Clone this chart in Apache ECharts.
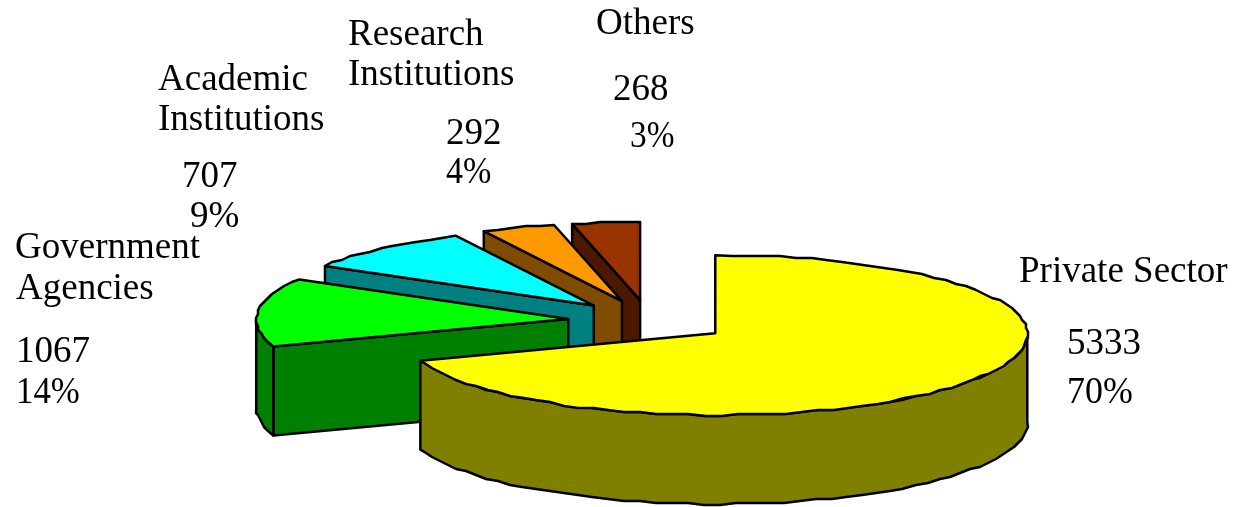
<!DOCTYPE html>
<html>
<head>
<meta charset="utf-8">
<style>html,body{margin:0;padding:0;background:#fff}#c{width:1234px;height:507px}</style>
<script src="https://cdn.jsdelivr.net/npm/echarts@6/dist/echarts.min.js"></script>
</head>
<body>
<div id="c"></div>
<script>
// ---- data ----
const categories = ['Private Sector', 'Government Agencies', 'Academic Institutions', 'Research Institutions', 'Others'];
const values = [5333, 1067, 707, 292, 268];
const percentLabels = ['70%', '14%', '9%', '4%', '3%'];
const topColors = ['#FFFF00', '#00FF00', '#00FFFF', '#FF9900', '#993300'];
const sideColors = ['#808000', '#008000', '#008080', '#804C00', '#4C1900'];

// ---- layout of the drawing (not data) ----
const PIE = { cx: 649, cy: 321, rx: 312, ryBack: 78, ryFront: 82, exY: 81, depth: 89, explode: 0.26, step: 3, snap: 2, flare: 0.01 };
const FONT = '37px "Liberation Serif", "Times New Roman", serif';
const labelLayout = [
  { name: [['Private Sector', 1019, 272]], value: [1067, 344], pct: [1067, 393, 0.97] },
  { name: [['Government', 15, 248], ['Agencies', 16, 289]], value: [16, 352], pct: [16, 393, 0.94] },
  { name: [['Academic', 158, 80], ['Institutions', 158, 120]], value: [182, 177], pct: [190, 217, 1] },
  { name: [['Research', 348, 35], ['Institutions', 348, 75]], value: [446, 134], pct: [446, 173, 0.92] },
  { name: [['Others', 596, 24]], value: [613, 90], pct: [630, 137, 0.9] }
];

const total = values.reduce((a, b) => a + b, 0);
const starts = [];
values.reduce((acc, v, i) => { starts[i] = acc; return acc + v; }, 0);

const rad = d => d * Math.PI / 180;
const snap = v => Math.round(v / PIE.snap) * PIE.snap;

function arcPoints(o, a0, a1) {
  const pts = [];
  const n = Math.max(1, Math.ceil((a1 - a0) / PIE.step));
  for (let i = 0; i <= n; i++) {
    const a = rad(a0 + (a1 - a0) * i / n);
    const c = Math.cos(a);
    const rx = PIE.rx * (1 + PIE.flare * Math.max(0, -c));
    const x = o[0] + rx * Math.sin(a);
    const y = o[1] - (c > 0 ? PIE.ryBack : PIE.ryFront) * c;
    pts.push(i === 0 || i === n ? [x, y] : [snap(x), snap(y)]);
  }
  return pts;
}

function renderItem(params, api) {
  const i = params.dataIndex;
  const v = api.value(0);
  const a0 = starts[i] / total * 360;
  const a1 = a0 + v / total * 360;
  const mid = rad((a0 + a1) / 2);
  const o = [
    PIE.cx + PIE.explode * PIE.rx * Math.sin(mid),
    PIE.cy - PIE.explode * PIE.exY * Math.cos(mid)
  ];
  const base = (categories.length - i) * 10;
  const line = { stroke: '#000', lineWidth: 2.5, lineJoin: 'round' };
  const kids = [];
  // radial wall on the start side, when it faces the viewer
  if (a0 >= 180) {
    const p = arcPoints(o, a0, a0 + 0.001)[0];
    kids.push({
      type: 'polygon', z2: base,
      shape: { points: [o, p, [p[0], p[1] + PIE.depth], [o[0], o[1] + PIE.depth]] },
      style: Object.assign({ fill: sideColors[i] }, line)
    });
  }
  // outer rim, front half only
  const r0 = Math.max(a0, 90), r1 = Math.min(a1, 270);
  if (r1 > r0) {
    const top = arcPoints(o, r0, r1);
    const bottom = top.map(p => [p[0], p[1] + PIE.depth]).reverse();
    kids.push({
      type: 'polygon', z2: base + 1,
      shape: { points: top.concat(bottom) },
      style: Object.assign({ fill: sideColors[i] }, line)
    });
  }
  // top face
  kids.push({
    type: 'polygon', z2: base + 2,
    shape: { points: [o].concat(arcPoints(o, a0, a1)) },
    style: Object.assign({ fill: topColors[i] }, line)
  });
  // labels
  const L = labelLayout[i];
  const addText = (t, pos) => kids.push({
    type: 'text', z2: 100, x: pos[0], y: pos[1], scaleX: pos[2] || 1,
    style: { text: t, x: 0, y: 0, font: FONT, fill: '#000', textAlign: 'left', textVerticalAlign: 'middle' }
  });
  L.name.forEach(n => addText(n[0], [n[1], n[2]]));
  addText(String(v), L.value);
  addText(percentLabels[i], L.pct);
  return { type: 'group', children: kids };
}

const chart = echarts.init(document.getElementById('c'), null, { renderer: 'canvas' });
chart.setOption({
  backgroundColor: '#fff',
  animation: false,
  series: [{
    type: 'custom',
    coordinateSystem: 'none',
    silent: true,
    renderItem: renderItem,
    data: values.map((v, i) => ({ name: categories[i], value: [v] }))
  }]
});
</script>
</body>
</html>
